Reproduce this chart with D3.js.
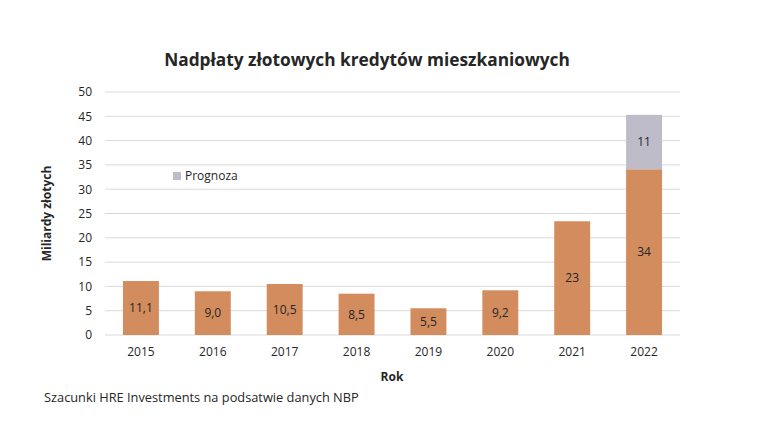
<!DOCTYPE html>
<html>
<head>
<meta charset="utf-8">
<script src="https://cdn.jsdelivr.net/npm/d3@7"></script>
<style>
  body { margin: 0; background: #fff; }
  text { font-family: "Open Sans", sans-serif; fill: #262626; }
</style>
</head>
<body>
<div id="chart"></div>
<script>
// data
var years = ["2015", "2016", "2017", "2018", "2019", "2020", "2021", "2022"];
var actual = [11.1, 9.0, 10.5, 8.5, 5.5, 9.2, 23.4, 34.1];
var forecast = [0, 0, 0, 0, 0, 0, 0, 11.2];
var actualLabels = ["11,1", "9,0", "10,5", "8,5", "5,5", "9,2", "23", "34"];
var forecastLabels = ["", "", "", "", "", "", "", "11"];
var yTicks = [0, 5, 10, 15, 20, 25, 30, 35, 40, 45, 50];

var W = 768, H = 422;
var margin = {top: 92, right: 88, bottom: 87, left: 105},
    width = W - margin.left - margin.right,
    height = H - margin.top - margin.bottom;

var svgRoot = d3.select("#chart")
  .append("svg")
    .attr("width", W)
    .attr("height", H);

var svg = svgRoot.append("g")
    .attr("transform", "translate(" + margin.left + "," + margin.top + ")");

var x = d3.scaleBand()
  .domain(years)
  .range([0, width])
  .paddingInner(0.5)
  .paddingOuter(0.25);

var y = d3.scaleLinear()
  .domain([0, 50])
  .range([height, 0]);

// gridlines
svg.append("g")
  .selectAll("line")
  .data(yTicks)
  .enter()
  .append("line")
    .attr("x1", 0)
    .attr("x2", width)
    .attr("y1", function(d) { return y(d); })
    .attr("y2", function(d) { return y(d); })
    .attr("stroke", "#d9d9d9")
    .attr("stroke-width", 1);

// Y axis
var yAxis = svg.append("g")
  .call(d3.axisLeft(y).tickValues(yTicks).tickSize(0).tickPadding(13));
yAxis.select(".domain").remove();
yAxis.selectAll("text")
  .style("font-size", "12px")
  .style("font-family", "'Open Sans', sans-serif")
  .attr("fill", "#404040");

// X axis
var xAxis = svg.append("g")
  .attr("transform", "translate(0," + height + ")")
  .call(d3.axisBottom(x).tickSize(0).tickPadding(12));
xAxis.select(".domain").remove();
xAxis.selectAll("text")
  .style("font-size", "12px")
  .style("font-family", "'Open Sans', sans-serif")
  .attr("fill", "#404040");

// bars
var orange = "#d38c5d", grey = "#bfbcc9";

svg.selectAll(".bar")
  .data(years)
  .enter()
  .append("rect")
    .attr("class", "bar")
    .attr("x", function(d) { return x(d); })
    .attr("width", x.bandwidth())
    .attr("y", function(d, i) { return y(actual[i]); })
    .attr("height", function(d, i) { return height - y(actual[i]); })
    .attr("fill", orange);

svg.selectAll(".fbar")
  .data(years.filter(function(d, i) { return forecast[i] > 0; }))
  .enter()
  .append("rect")
    .attr("class", "fbar")
    .attr("x", function(d) { return x(d); })
    .attr("width", x.bandwidth())
    .attr("y", function(d) { var i = years.indexOf(d); return y(actual[i] + forecast[i]); })
    .attr("height", function(d) { var i = years.indexOf(d); return y(actual[i]) - y(actual[i] + forecast[i]); })
    .attr("fill", grey);

// labels
svg.selectAll(".lbl")
  .data(years)
  .enter()
  .append("text")
    .attr("class", "lbl")
    .attr("x", function(d) { return x(d) + x.bandwidth() / 2; })
    .attr("y", function(d, i) { return y(actual[i] / 2); })
    .attr("dy", "0.35em")
    .attr("text-anchor", "middle")
    .style("font-size", "12px")
    .text(function(d, i) { return actualLabels[i]; });

svg.selectAll(".flbl")
  .data(years.filter(function(d, i) { return forecast[i] > 0; }))
  .enter()
  .append("text")
    .attr("class", "flbl")
    .attr("x", function(d) { return x(d) + x.bandwidth() / 2; })
    .attr("y", function(d) { var i = years.indexOf(d); return y(actual[i] + forecast[i] / 2); })
    .attr("dy", "0.35em")
    .attr("text-anchor", "middle")
    .style("font-size", "12px")
    .text(function(d) { return forecastLabels[years.indexOf(d)]; });

// legend
svg.append("rect")
  .attr("x", 68)
  .attr("y", 80)
  .attr("width", 8)
  .attr("height", 8)
  .attr("fill", grey);
svg.append("text")
  .attr("x", 80)
  .attr("y", 84)
  .attr("dy", "0.35em")
  .style("font-size", "12px")
  .text("Prognoza");

// title
svgRoot.append("text")
  .attr("x", 367)
  .attr("y", 66)
  .attr("text-anchor", "middle")
  .style("font-size", "17.3px")
  .style("font-weight", "bold")
  .text("Nadpłaty złotowych kredytów mieszkaniowych");

// axis titles
svgRoot.append("text")
  .attr("transform", "translate(51," + (margin.top + height / 2) + ") rotate(-90)")
  .attr("text-anchor", "middle")
  .style("font-size", "12px")
  .style("font-weight", "bold")
  .text("Miliardy złotych");

svgRoot.append("text")
  .attr("x", 392)
  .attr("y", 381)
  .attr("text-anchor", "middle")
  .style("font-size", "12px")
  .style("font-weight", "bold")
  .text("Rok");

// source
svgRoot.append("text")
  .attr("x", 44)
  .attr("y", 402)
  .style("font-size", "12.8px")
  .text("Szacunki HRE Investments na podsatwie danych NBP");
</script>
</body>
</html>
